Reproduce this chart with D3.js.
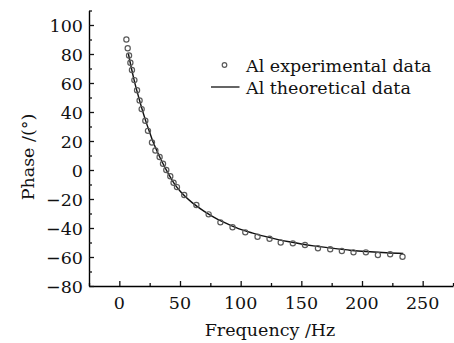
<!DOCTYPE html>
<meta charset="utf-8">
<script src="https://d3js.org/d3.v7.min.js"></script>
<style>
    body { margin: 0; background: #fff; }
    text { font-family: "DejaVu Serif", serif; fill: #111; }
</style>
<div id="vis"></div>
<script>
    // experimental points (Hz, deg)
    var expFreq = [5.8, 6.9, 8.0, 9.1, 10.4, 12.4, 14.6, 16.7, 18.4, 21.4, 23.6, 26.9, 29.7, 33.2, 36, 38.7, 42, 44.7, 47.5,
        53.5, 63.5, 73.6, 83.3, 93.3, 103.8, 113.9, 123.8, 133, 143, 153, 163.7, 173.8, 183.4, 193, 203.2, 213.1, 223.2, 233.4];
    var expPhase = [90, 84, 79, 74, 69, 62, 55, 48, 42, 34, 27, 19, 13.5, 9, 4.3, 0, -4.3, -8.8, -11.8,
        -17.2, -24.1, -30.6, -36.1, -39.5, -43, -46, -47.4, -50, -50.6, -51.7, -54, -54.7, -55.9, -56.8, -56.8, -58.6, -58.1, -59.8];

    // theoretical curve
    var thFreq = [7.4, 10, 12.5, 15, 17.5, 20, 22.5, 25, 27.5, 30, 35, 40, 45, 50, 60, 70, 80, 90, 100,
        110, 120, 130, 140, 150, 160, 170, 180, 190, 200, 210, 220, 234];
    var thPhase = [80.5, 70, 61, 53, 45.5, 38.5, 32, 26, 20, 15, 6, -2, -9, -14.5, -22.5, -28.5, -33.5, -37.5, -41,
        -43.5, -45.8, -47.8, -49.5, -51, -52.3, -53.4, -54.4, -55.3, -56, -56.6, -57.1, -57.6];

    var xTicks = [0, 50, 100, 150, 200, 250];
    var yTicks = [-80, -60, -40, -20, 0, 20, 40, 60, 80, 100];
    var legendLabels = ["Al experimental data", "Al theoretical data"];

    var W = 454, H = 343, fs = "17.5px";
    var svg = d3.select("#vis").append("svg")
        .attr("width", W)
        .attr("height", H);

    var x = d3.scaleLinear().domain([-25, 275]).range([89, 453]);
    var y = d3.scaleLinear().domain([-80, 110]).range([286, 10.5]);

    // axes (ticks pointing inward)
    var xAx = svg.append("g")
        .attr("transform", "translate(0," + y(-80) + ")")
        .call(d3.axisTop(x).tickValues(d3.range(-25, 276, 25)).tickSize(0).tickFormat(""));
    xAx.selectAll(".tick line")
        .attr("y2", function (d) { return xTicks.indexOf(d) >= 0 ? -5 : -3; });
    xAx.select(".domain").attr("stroke-width", 1.4);
    svg.append("g").selectAll("text")
        .data(xTicks)
        .enter().append("text")
        .attr("x", function (d) { return x(d); })
        .attr("y", y(-80) + 23)
        .attr("text-anchor", "middle")
        .style("font-size", fs)
        .text(function (d) { return d3.format("")(d); });

    var yAx = svg.append("g")
        .attr("transform", "translate(" + x(-25) + ",0)")
        .call(d3.axisRight(y).tickValues(d3.range(-80, 111, 10)).tickSize(0).tickFormat(""));
    yAx.selectAll(".tick line")
        .attr("x2", function (d) { return yTicks.indexOf(d) >= 0 ? 5 : 3; });
    yAx.select(".domain").attr("stroke-width", 1.4);
    svg.append("g").selectAll("text")
        .data(yTicks)
        .enter().append("text")
        .attr("x", x(-25) - 6)
        .attr("y", function (d) { return y(d) + 6.5; })
        .attr("text-anchor", "end")
        .style("font-size", fs)
        .text(function (d) { return d3.format("")(d); });
    svg.selectAll(".tick line").attr("stroke", "#111").attr("stroke-width", 1.3);

    // theoretical line
    var line = d3.line()
        .x(function (d) { return x(d[0]); })
        .y(function (d) { return y(d[1]); })
        .curve(d3.curveMonotoneX);
    svg.append("path")
        .datum(d3.zip(thFreq, thPhase))
        .attr("d", line)
        .attr("fill", "none")
        .attr("stroke", "#111")
        .attr("stroke-width", 1.4);

    // experimental points
    svg.append("g").selectAll("circle")
        .data(d3.zip(expFreq, expPhase))
        .enter().append("circle")
        .attr("cx", function (d) { return x(d[0]); })
        .attr("cy", function (d) { return y(d[1]); })
        .attr("r", 2.6)
        .attr("fill", "none")
        .attr("stroke", "#5a5a5a")
        .attr("stroke-width", 1.2);

    // legend
    var lg = svg.append("g");
    lg.append("circle")
        .attr("cx", 224.5).attr("cy", 65).attr("r", 2.3)
        .attr("fill", "none").attr("stroke", "#5a5a5a").attr("stroke-width", 1.2);
    lg.append("line")
        .attr("x1", 211).attr("x2", 239.5).attr("y1", 87).attr("y2", 87)
        .attr("stroke", "#111").attr("stroke-width", 1.3);
    lg.selectAll("text")
        .data(legendLabels)
        .enter().append("text")
        .attr("x", 246)
        .attr("y", function (d, i) { return 71.5 + i * 22.5; })
        .style("font-size", fs)
        .text(function (d) { return d; });

    // axis titles
    svg.append("text")
        .attr("x", x(125) - 1)
        .attr("y", 336)
        .attr("text-anchor", "middle")
        .style("font-size", fs)
        .text("Frequency /Hz");
    svg.append("text")
        .attr("transform", "translate(34,157) rotate(-90)")
        .attr("text-anchor", "middle")
        .style("font-size", fs)
        .text("Phase /(°)");
</script>
